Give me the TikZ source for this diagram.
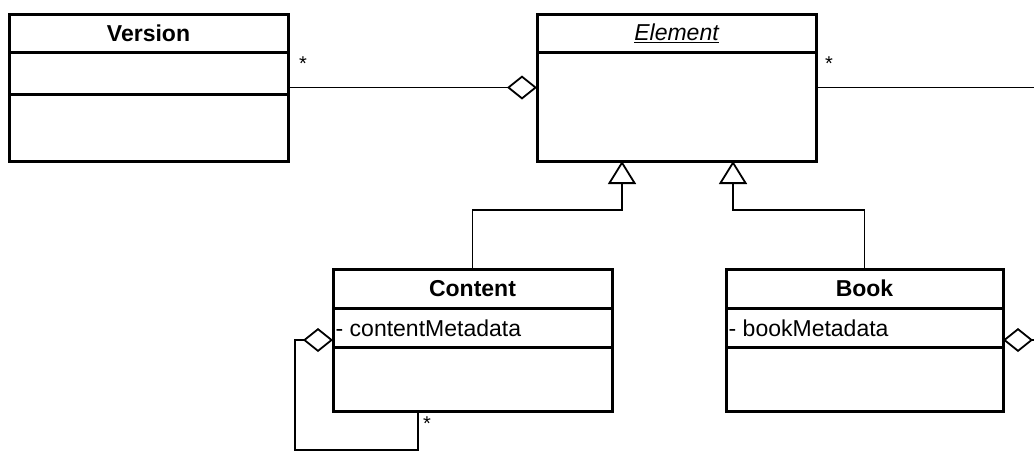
\documentclass[tikz,border=0pt]{standalone}
\usepackage{fontspec}
\setmainfont{Liberation Sans}
\usetikzlibrary{arrows.meta,calc}
\begin{document}
\begin{tikzpicture}[x=1pt,y=-1pt,
  classbox/.style={draw, line width=3pt, inner sep=0pt, outer sep=0pt},
  divider/.style={line width=3pt},
  title/.style={font=\fontsize{23}{27}\selectfont\bfseries, inner sep=0pt},
  attr/.style={font=\fontsize{23}{27}\selectfont, inner sep=0pt, anchor=west},
  mult/.style={font=\fontsize{20}{24}\selectfont, inner sep=0pt},
  conn/.style={line width=1.2pt},
  aggr/.style={conn, -{Diamond[open, length=30pt, width=24pt, line width=1.8pt]}},
  gen/.style={conn, -{Triangle[open, length=23pt, width=28pt, line width=1.8pt]}}
]
\useasboundingbox (0,0) rectangle (1034,451);

% classes
\node[classbox, minimum width=279pt, minimum height=147pt] (ver) at (148.5,87.5) {};
\node[classbox, minimum width=279pt, minimum height=147pt] (elem) at (676.5,87.5) {};
\node[classbox, minimum width=279pt, minimum height=142pt] (cont) at (472.5,340) {};
\node[classbox, minimum width=277pt, minimum height=142pt] (book) at (864.5,340) {};

% dividers
\draw[divider] ($(ver.north west)+(0,38)$) -- ($(ver.north east)+(0,38)$);
\draw[divider] ($(ver.north west)+(0,80)$) -- ($(ver.north east)+(0,80)$);
\draw[divider] ($(elem.north west)+(0,38)$) -- ($(elem.north east)+(0,38)$);
\draw[divider] ($(cont.north west)+(0,39)$) -- ($(cont.north east)+(0,39)$);
\draw[divider] ($(cont.north west)+(0,78)$) -- ($(cont.north east)+(0,78)$);
\draw[divider] ($(book.north west)+(0,39)$) -- ($(book.north east)+(0,39)$);
\draw[divider] ($(book.north west)+(0,78)$) -- ($(book.north east)+(0,78)$);

% texts
\node[title] (verT) at (148.5,33) {Version};
\node[title, font=\fontsize{23}{27}\selectfont\itshape] (elemT) at (676.5,33) {\underline{Element}};
\node[title] (contT) at (472.5,288.5) {Content};
\node[title] (bookT) at (864.5,288.5) {Book};
\node[attr] (contA) at (335.5,328) {- contentMetadata};
\node[attr] (bookA) at (728.5,328) {- bookMetadata};

% coordinates
\coordinate (rightEnd) at (1034,87.5);
\coordinate (bookEnd) at (1034,340);
\coordinate (g1) at ($(elem.south west)+(85,0)$);
\coordinate (g2) at ($(elem.south west)+(196,0)$);
\coordinate (selfStart) at ($(cont.south west)+(85,0)$);

% connectors
\draw[aggr] (ver.east) -- (elem.west);
\draw[conn] (elem.east) -- (rightEnd);
\draw[gen] (cont.north) |- ($(g1)+(0,49)$) -- (g1);
\draw[gen] (book.north) |- ($(g2)+(0,49)$) -- (g2);
\draw[aggr] (selfStart) -- ++(0,39) -| ($(cont.west)+(-38,0)$) -- (cont.west);
\draw[aggr] (bookEnd) -- (book.east);

% multiplicities
\node[mult] (m1) at (303,64) {*};
\node[mult] (m2) at (829,64) {*};
\node[mult] (m3) at (427,424) {*};
\end{tikzpicture}
\end{document}
